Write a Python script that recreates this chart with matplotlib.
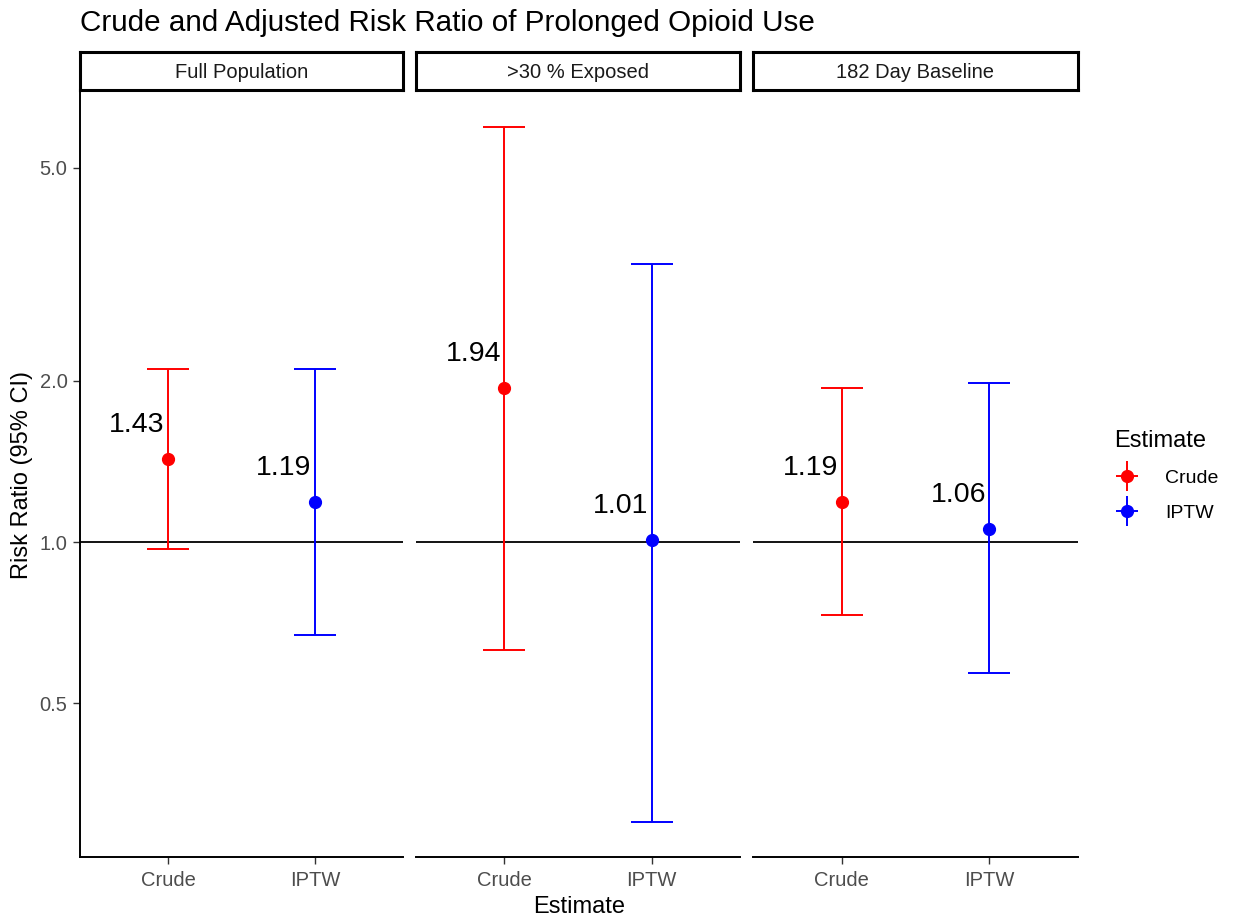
import numpy as np
import matplotlib
matplotlib.use("Agg")
import matplotlib.pyplot as plt
from matplotlib.lines import Line2D
from matplotlib.legend_handler import HandlerTuple

plt.rcParams['font.family'] = ['Liberation Sans', 'DejaVu Sans']

# ---- data ----
panels = ["Full Population", ">30 % Exposed", "182 Day Baseline"]
estimates = ["Crude", "IPTW"]
rr = [[1.43, 1.19], [1.94, 1.01], [1.19, 1.06]]
lower = [[0.97, 0.67], [0.63, 0.30], [0.73, 0.57]]
upper = [[2.10, 2.10], [5.96, 3.30], [1.94, 1.98]]
labels = [["1.43", "1.19"], ["1.94", "1.01"], ["1.19", "1.06"]]
colors = {"Crude": "#FF0000", "IPTW": "#0000FF"}
yticks = [0.5, 1.0, 2.0, 5.0]
title = "Crude and Adjusted Risk Ratio of Prolonged Opioid Use"

W, H = 1236, 923
fig = plt.figure(figsize=(W / 100, H / 100), dpi=100)

def fx(px):
    return px / W

def fy(py):
    return 1 - py / H

panel_x = [(80, 403), (416, 740), (753, 1078)]
ptop, pbot = 92, 857
stop, sbot = 52, 90

# y limits with 5% expansion on log scale
allv = np.log10(np.array(lower + upper, dtype=float))
lo, hi = allv.min(), allv.max()
rng = hi - lo
ylim = (10 ** (lo - 0.05 * rng), 10 ** (hi + 0.05 * rng))

for i, (x0, x1) in enumerate(panel_x):
    ax = fig.add_axes([fx(x0), fy(pbot), fx(x1 - x0), (pbot - ptop) / H])
    ax.set_yscale('log')
    ax.set_ylim(*ylim)
    ax.set_xlim(0.4, 2.6)
    ax.axhline(1.0, color='black', lw=1.3, zorder=1)
    for j, est in enumerate(estimates):
        xpos = j + 1
        c = colors[est]
        ax.errorbar([xpos], [rr[i][j]],
                    yerr=[[rr[i][j] - lower[i][j]], [upper[i][j] - rr[i][j]]],
                    fmt='o', color=c, ecolor=c, elinewidth=1.4, capsize=15,
                    capthick=1.4, markersize=8.5, zorder=3)
        ax.annotate(labels[i][j], xy=(xpos, rr[i][j]), xytext=(-31, 34),
                    textcoords='offset pixels', ha='center', va='center',
                    fontsize=20.5, color='black')
    ax.set_xticks([1, 2])
    ax.set_xticklabels(estimates)
    ax.tick_params(axis='x', length=5, width=1.0, color='#333333',
                   labelsize=14.5, labelcolor='#4D4D4D', pad=5)
    for s in ['top', 'right']:
        ax.spines[s].set_visible(False)
    ax.spines['bottom'].set_linewidth(1.4)
    ax.spines['left'].set_linewidth(1.4)
    ax.yaxis.set_minor_locator(matplotlib.ticker.NullLocator())
    if i == 0:
        ax.set_yticks(yticks)
        ax.set_yticklabels([f"{v:.1f}" for v in yticks])
        ax.tick_params(axis='y', length=5, width=1.0, color='#333333',
                       labelsize=14.5, labelcolor='#4D4D4D', pad=4)
    else:
        ax.spines['left'].set_visible(False)
        ax.set_yticks([])
    # strip
    sax = fig.add_axes([fx(x0), fy(sbot), fx(x1 - x0), (sbot - stop) / H])
    sax.set_xticks([])
    sax.set_yticks([])
    for s in sax.spines.values():
        s.set_linewidth(2.2)
        s.set_color('black')
    sax.text(0.5, 0.47, panels[i], ha='center', va='center', fontsize=14.5,
             color='#1A1A1A', transform=sax.transAxes)

fig.text(fx(80), fy(23), title, ha='left', va='center', fontsize=21.3, color='black')
fig.text(fx(579), fy(907), "Estimate", ha='center', va='center', fontsize=17)
fig.text(fx(22), fy(475), "Risk Ratio (95% CI)", ha='center', va='center',
         fontsize=17, rotation=90)

handles = []
for est in estimates:
    c = colors[est]
    handles.append((Line2D([], [], color=c, marker='|', markersize=21, markeredgewidth=1.4, linestyle='None'),
                    Line2D([], [], color=c, marker='_', markersize=16, markeredgewidth=1.4, linestyle='None'),
                    Line2D([], [], color=c, marker='o', markersize=8.5, linestyle='None')))
leg = fig.legend(handles, estimates, handler_map={tuple: HandlerTuple(ndivide=1)},
                 loc='upper left', bbox_to_anchor=(fx(1097), fy(412)), frameon=False,
                 title="Estimate", fontsize=14, title_fontsize=17, handlelength=1.3,
                 labelspacing=0.9, handletextpad=1.3)
leg._legend_box.align = "left"

fig.savefig("out.png", dpi=100)
